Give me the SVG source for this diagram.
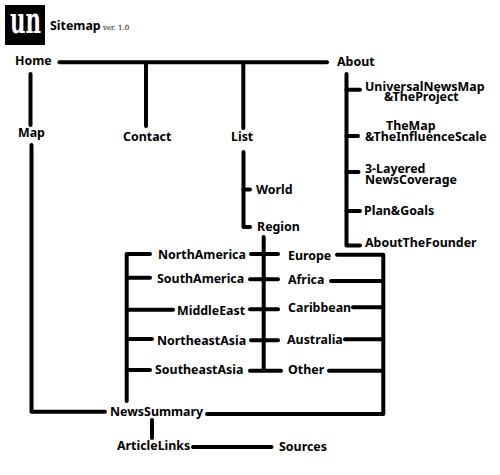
<svg xmlns="http://www.w3.org/2000/svg" width="500" height="475" viewBox="0 0 500 475">
<style>
.c{fill:none;stroke:#000;stroke-width:4;stroke-linecap:round;stroke-linejoin:round}
text{font-family:"Noto Sans","DejaVu Sans",sans-serif;font-weight:700;font-size:12.4px;fill:#000}
</style>
<rect width="500" height="475" fill="#fff"/>
<g id="connectors" class="c">
<path d="M59.500 62.300H327"/><path d="M146 63V126"/><path d="M243.300 63V128"/>
<path d="M30.500 74V125"/><path d="M31.500 145V411.700H105"/>
<path d="M346.500 74V245.500H360"/><path d="M346.500 89.700H360"/><path d="M346.500 136H358"/><path d="M346.500 172H358.500"/><path d="M346.500 211H360"/>
<path d="M243.500 152V227H250"/><path d="M243.500 189.500H250"/>
<path d="M263.700 237V369"/>
<path d="M251 254H278"/><path d="M250 279.300H278"/><path d="M250 309.300H278"/><path d="M251 340.300H278"/><path d="M250 370.700H281"/>
<path d="M150 254H126.700V401"/><path d="M126.700 277.700H150"/><path d="M126.700 309.700H173"/><path d="M126.700 339H152"/><path d="M126.700 370H150"/>
<path d="M337 254.700H383.300V414H207"/><path d="M331 281H383"/><path d="M353 307.300H383"/><path d="M345 339.300H383"/><path d="M329 370.700H383"/>
<path d="M152 420V438"/><path d="M193 447H271.500"/>
</g>
<g id="logo"><rect x="5" y="5" width="40" height="40" fill="#000"/><text x="10" y="33" textLength="31" lengthAdjust="spacingAndGlyphs" style="font-family:'DejaVu Serif',serif;font-size:35px;fill:#fff">un</text></g>
<g id="title"><text x="50" y="30">Sitemap</text><text x="103" y="30" style="font-size:7px;font-family:'DejaVu Serif',serif;font-weight:400">ver. 1.0</text></g>
<g id="home"><text x="15" y="65">Home</text></g>
<g id="map"><text x="18" y="137">Map</text></g>
<g id="contact"><text x="123" y="141">Contact</text></g>
<g id="list"><text x="231" y="141">List</text></g>
<g id="about"><text x="337" y="66">About</text></g>
<g id="project"><text x="365" y="91">UniversalNewsMap</text><text x="384" y="101">&amp;TheProject</text></g>
<g id="scale"><text x="386" y="130">TheMap</text><text x="365" y="141">&amp;TheInfluenceScale</text></g>
<g id="coverage"><text x="365" y="173">3-Layered</text><text x="365" y="184">NewsCoverage</text></g>
<g id="plan"><text x="364" y="215">Plan&amp;Goals</text></g>
<g id="founder"><text x="365" y="247">AboutTheFounder</text></g>
<g id="world"><text x="256" y="194">World</text></g>
<g id="region"><text x="257" y="231">Region</text></g>
<g id="northamerica"><text x="158" y="259">NorthAmerica</text></g>
<g id="southamerica"><text x="157" y="283">SouthAmerica</text></g>
<g id="middleeast"><text x="177" y="315">MiddleEast</text></g>
<g id="northeastasia"><text x="157" y="345">NortheastAsia</text></g>
<g id="southeastasia"><text x="155" y="374">SoutheastAsia</text></g>
<g id="europe"><text x="288" y="260">Europe</text></g>
<g id="africa"><text x="288" y="284">Africa</text></g>
<g id="caribbean"><text x="288" y="312">Caribbean</text></g>
<g id="australia"><text x="287" y="344">Australia</text></g>
<g id="other"><text x="288" y="374">Other</text></g>
<g id="newssummary"><text x="110" y="416">NewsSummary</text></g>
<g id="articlelinks"><text x="117" y="450">ArticleLinks</text></g>
<g id="sources"><text x="279" y="451">Sources</text></g>
</svg>
